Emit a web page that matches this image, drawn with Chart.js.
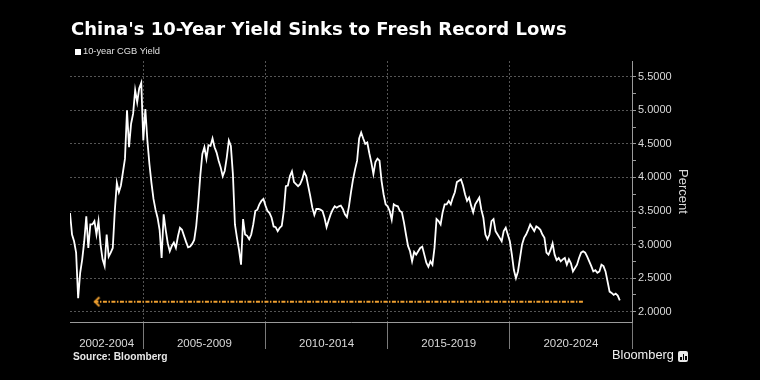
<!DOCTYPE html>
<html><head><meta charset="utf-8">
<script src="https://cdn.jsdelivr.net/npm/chart.js@4.4.1/dist/chart.umd.min.js"></script>
<style>
html,body{margin:0;padding:0;background:#000;}
#wrap{position:relative;width:760px;height:380px;background:#000;overflow:hidden;}
#chart{position:absolute;left:0;top:0;}
.title{position:absolute;left:71px;top:20px;font-family:"DejaVu Sans";font-weight:bold;font-size:18px;line-height:1;color:#fff;white-space:nowrap;}
.legend{position:absolute;left:83px;top:47px;font-family:"Liberation Sans";font-size:9.3px;line-height:1;color:#e0e0e0;white-space:nowrap;}
.legend .sw{position:absolute;left:-8px;top:1.5px;width:6px;height:6px;background:#fff;}
.source{position:absolute;left:73px;top:351.5px;font-family:"Liberation Sans";font-weight:bold;font-size:10.2px;line-height:1;color:#e8e8e8;white-space:nowrap;}
.brand{position:absolute;left:612px;top:349.4px;font-family:"Liberation Sans";font-size:12.8px;line-height:1;color:#f0f0f0;white-space:nowrap;}
.icon{position:absolute;left:678px;top:351px;width:10px;height:11px;background:#e8e8e8;border-radius:2px;}
.icon i{position:absolute;bottom:2px;width:1.5px;background:#000;}
</style></head>
<body>
<div id="wrap">
  <canvas id="chart" width="760" height="380"></canvas>
  <div class="title">China's 10-Year Yield Sinks to Fresh Record Lows</div>
  <div class="legend"><span class="sw"></span>10-year CGB Yield</div>
  <div class="source">Source: Bloomberg</div>
  <div class="brand">Bloomberg</div>
  <div class="icon"><i style="left:2px;height:3px"></i><i style="left:4.5px;height:6px"></i><i style="left:7px;height:4px"></i></div>
</div>
<script>
// ---- data ----
const startYear = 2002; // first monthly observation: Jan 2002
const monthlyYield = [
  3.47, 3.15, 3.05, 2.88, 2.20, 2.58, 2.78, 3.05, 3.42, 2.95, 3.30, 3.30,
  3.35, 3.15, 3.35, 3.00, 2.78, 2.68, 3.15, 2.82, 2.88, 2.95, 3.50, 3.92,
  3.78, 3.88, 4.08, 4.28, 5.00, 4.45, 4.80, 4.95, 5.30, 5.12, 5.33, 5.41,
  4.55, 5.02, 4.55, 4.20, 3.92, 3.68, 3.52, 3.40, 3.22, 2.80, 3.45, 3.22,
  3.02, 2.90, 2.98, 3.03, 2.95, 3.12, 3.25, 3.22, 3.13, 3.04, 2.96, 2.97,
  3.01, 3.07, 3.28, 3.62, 4.03, 4.35, 4.45, 4.28, 4.48, 4.47, 4.58, 4.45,
  4.37, 4.25, 4.15, 4.02, 4.10, 4.30, 4.55, 4.47, 4.05, 3.30, 3.10, 2.92,
  2.70, 3.38, 3.15, 3.13, 3.08, 3.15, 3.30, 3.50, 3.52, 3.60, 3.65, 3.68,
  3.58, 3.50, 3.47, 3.40, 3.27, 3.26, 3.20, 3.25, 3.28, 3.50, 3.87, 3.88,
  4.02, 4.09, 3.93, 3.90, 3.87, 3.90, 3.97, 4.08, 4.02, 3.87, 3.72, 3.55,
  3.44, 3.53, 3.53, 3.52, 3.50, 3.40, 3.26, 3.36, 3.45, 3.52, 3.57, 3.55,
  3.57, 3.58, 3.53, 3.45, 3.41, 3.57, 3.78, 3.97, 4.12, 4.25, 4.58, 4.67,
  4.58, 4.50, 4.52, 4.36, 4.22, 4.05, 4.23, 4.28, 4.25, 3.95, 3.75, 3.60,
  3.57, 3.50, 3.37, 3.60, 3.58, 3.57, 3.50, 3.48, 3.33, 3.15, 2.98, 2.90,
  2.75, 2.89, 2.85, 2.90, 2.95, 2.97, 2.85, 2.73, 2.67, 2.75, 2.70, 2.95,
  3.38, 3.35, 3.30, 3.48, 3.60, 3.60, 3.65, 3.60, 3.70, 3.78, 3.93, 3.95,
  3.97, 3.88, 3.75, 3.65, 3.70, 3.58, 3.48, 3.60, 3.65, 3.70, 3.52, 3.40,
  3.15, 3.08, 3.15, 3.35, 3.38, 3.20, 3.15, 3.10, 3.05, 3.20, 3.25, 3.15,
  3.05, 2.85, 2.62, 2.50, 2.60, 2.80, 3.00, 3.10, 3.15, 3.22, 3.30, 3.25,
  3.20, 3.27, 3.25, 3.22, 3.15, 3.10, 2.88, 2.85, 2.92, 3.02, 2.85, 2.77,
  2.80, 2.75, 2.78, 2.80, 2.70, 2.78, 2.72, 2.60, 2.65, 2.70, 2.80, 2.88,
  2.90, 2.88, 2.82, 2.75, 2.68, 2.60, 2.62, 2.58, 2.60, 2.70, 2.68, 2.60,
  2.45, 2.30, 2.28, 2.25, 2.27, 2.24, 2.17
];
const periodLabels  = ['2002-2004', '2005-2009', '2010-2014', '2015-2019', '2020-2024'];
const periodCenters = [2003.5, 2007.5, 2012.5, 2017.5, 2022.5];
const periodEdges   = [2005, 2010, 2015, 2020, 2025];
const axisStart = 2002, axisEnd = 2025;
const yTickValues = [2.0, 2.25, 2.5, 2.75, 3.0, 3.25, 3.5, 3.75, 4.0, 4.25, 4.5, 4.75, 5.0, 5.25, 5.5];
const yMin = 1.847, yMax = 5.734;
const recordLow = 2.15, arrowFrom = 2003.0, arrowTo = 2023.0;

// ---- build ----
const series = monthlyYield.map((v, i) => ({ x: startYear + i / 12, y: v }));
const arrowLine = [{ x: arrowFrom, y: recordLow }, { x: arrowTo, y: recordLow }];
const ORANGE = '#f0a030';
const CLEAR = 'rgba(0,0,0,0)';
const GRID = '#555555';
const AXIS = '#9a9a9a';
const TXT = '#d9d9d9';

const arrowHead = document.createElement('canvas');
arrowHead.width = 16; arrowHead.height = 16;
(() => {
  const g = arrowHead.getContext('2d');
  g.strokeStyle = ORANGE; g.lineWidth = 2; g.lineJoin = 'miter';
  g.beginPath(); g.moveTo(13, 3.5); g.lineTo(8.5, 8); g.lineTo(13, 12.5); g.stroke();
})();

const isMajor = v => Math.abs(v * 2 - Math.round(v * 2)) < 1e-6;

new Chart(document.getElementById('chart'), {
  type: 'line',
  data: {
    datasets: [
      { label: '10-year CGB Yield', data: series, borderColor: '#ffffff', borderWidth: 1.8,
        pointRadius: 0, tension: 0, fill: false, order: 1 },
      { label: 'record low', data: arrowLine, borderColor: ORANGE, borderWidth: 2,
        borderDash: [4, 1.5, 1.5, 1.5], pointRadius: [4, 0], pointStyle: arrowHead,
        fill: false, order: 2 }
    ]
  },
  options: {
    responsive: false, animation: false, devicePixelRatio: 1,
    layout: { padding: { left: 70, top: 61, right: 66, bottom: 0 } },
    plugins: { legend: { display: false }, tooltip: { enabled: false }, title: { display: false } },
    scales: {
      x: {
        type: 'linear', position: 'bottom', min: axisStart, max: axisEnd,
        afterBuildTicks: s => {
          s.ticks = periodEdges.concat(periodCenters).sort((a, b) => a - b).map(v => ({ value: v }));
        },
        afterFit: s => { s.height = 58; },
        grid: {
          color: c => (c.tick && periodEdges.includes(c.tick.value) && c.tick.value < axisEnd) ? GRID : CLEAR,
          tickColor: c => (c.tick && periodEdges.includes(c.tick.value)) ? '#7a7a7a' : CLEAR,
          tickLength: 27, lineWidth: 1
        },
        border: { display: true, color: AXIS, width: 1, dash: [2, 2] },
        ticks: {
          autoSkip: false, maxRotation: 0, padding: -12, color: TXT,
          font: { family: 'Liberation Sans', size: 11.5 },
          callback: v => { const i = periodCenters.indexOf(v); return i >= 0 ? periodLabels[i] : ''; }
        }
      },
      y: {
        type: 'linear', position: 'right', min: yMin, max: yMax,
        afterBuildTicks: s => { s.ticks = yTickValues.map(v => ({ value: v })); },
        afterFit: s => { s.width = 62; },
        grid: {
          color: c => (c.tick && isMajor(c.tick.value)) ? GRID : CLEAR,
          tickColor: AXIS, tickLength: 4, lineWidth: 1
        },
        border: { display: true, color: AXIS, width: 1, dash: [2, 2] },
        ticks: {
          padding: 2, color: TXT, font: { family: 'Liberation Sans', size: 11 },
          callback: v => isMajor(v) ? v.toFixed(4) : ''
        },
        title: { display: true, text: 'Percent', color: TXT,
          font: { family: 'Liberation Sans', size: 13 }, padding: { top: 4, bottom: 0 } }
      }
    }
  }
});
</script>
</body></html>
